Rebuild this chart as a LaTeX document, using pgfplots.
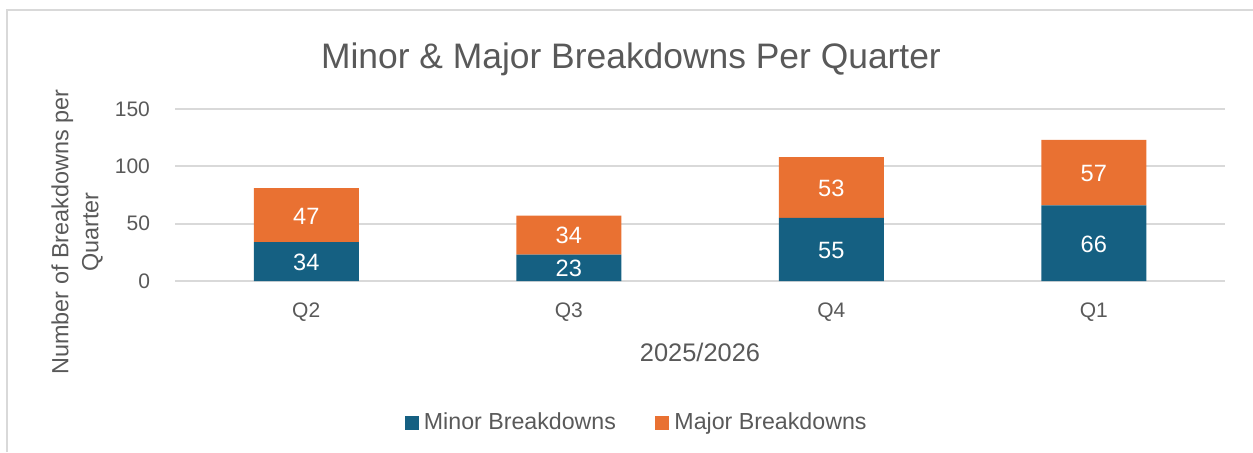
\documentclass[border=0pt]{standalone}
\usepackage{pgfplots}
\pgfplotsset{compat=1.18}
\usepackage{fontspec}
\setmainfont{Liberation Sans}
\definecolor{txt}{HTML}{595959}
\definecolor{gridc}{HTML}{D9D9D9}
\definecolor{minorc}{HTML}{156082}
\definecolor{majorc}{HTML}{E97132}
\pgfplotsset{sq/.style={legend image code/.code={\fill[##1] (0pt,-3.6pt) rectangle (7.2pt,3.6pt);}}}
\begin{document}
\begin{tikzpicture}[x=1pt,y=1pt]
\path[use as bounding box] (0,0) rectangle (626.5,226);
\draw[gridc, line width=1pt] (3.5,0) -- (3.5,221) -- (626.5,221);
\begin{axis}[
  at={(87.5pt,85.5pt)}, anchor=south west,
  width=525pt, height=86pt, scale only axis,
  xmin=-0.5, xmax=3.5, ymin=0, ymax=150,
  ybar stacked, bar width=0.4,
  axis line style={draw=none},
  tick style={draw=none},
  ytick={0,50,100,150},
  xtick={0,1,2,3}, xticklabels={Q2,Q3,Q4,Q1},
  ymajorgrids, grid style={gridc, line width=0.9pt},
  /pgf/number format/assume math mode=true,
  ticklabel style={text=txt, font=\fontsize{10.5}{12}\selectfont},
  yticklabel style={anchor=east, xshift=-9pt},
  xticklabel style={anchor=center, yshift=-15.5pt},
  clip=false,
  legend style={at={(0.441,-0.826)}, anchor=center, draw=none, fill=none,
    legend columns=2, font=\fontsize{11.6}{13}\selectfont, text=txt,
    nodes={inner xsep=2.5pt},
    /tikz/every even column/.append style={column sep=17pt}},
]
\addplot[fill=minorc, draw=none, sq] coordinates {(0,34) (1,23) (2,55) (3,66)};
\addlegendentry{Minor Breakdowns}
\addplot[fill=majorc, draw=none, sq] coordinates {(0,47) (1,34) (2,53) (3,57)};
\addlegendentry{Major Breakdowns}
\end{axis}
\begin{axis}[
  at={(87.5pt,85.5pt)}, anchor=south west,
  width=525pt, height=86pt, scale only axis,
  xmin=-0.5, xmax=3.5, ymin=0, ymax=150,
  hide axis, clip=false,
]
\addplot[draw=none, mark=none, nodes near coords, point meta=explicit symbolic,
  every node near coord/.append style={anchor=center, text=white, font=\fontsize{11.8}{13}\selectfont}]
  coordinates {(0,16.5)[34] (1,11)[23] (2,27)[55] (3,32)[66]
               (0,56.5)[47] (1,39.5)[34] (2,81)[53] (3,94)[57]};
\end{axis}
\node[text=txt, font=\fontsize{17.7}{20}\selectfont] at (315.5,196.5) {Minor \& Major Breakdowns Per Quarter};
\node[text=txt, font=\fontsize{12.7}{15}\selectfont] at (350,50) {2025/2026};
\node[text=txt, rotate=90, align=center, font=\fontsize{11.7}{15}\selectfont] at (38.5,110) {Number of Breakdowns per\\Quarter};
\end{tikzpicture}
\end{document}
